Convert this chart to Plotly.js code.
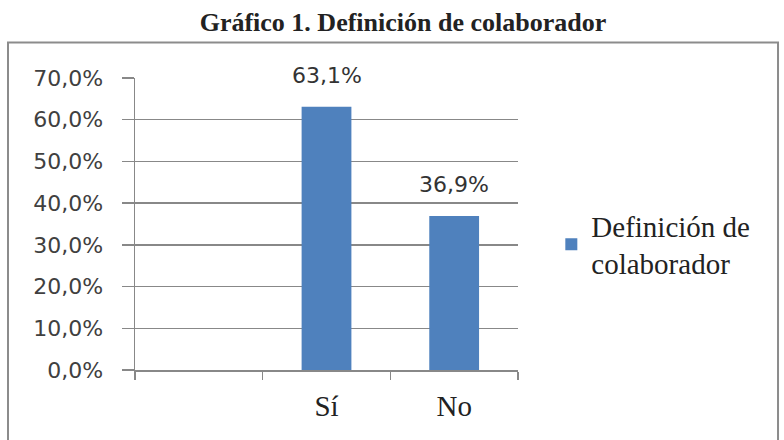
<!DOCTYPE html>
<html>
<head>
<meta charset="utf-8">
<script src="https://cdn.plot.ly/plotly-3.0.1.min.js"></script>
<style>
  html, body { margin: 0; padding: 0; background: #fff; }
  #chart { width: 784px; height: 440px; }
</style>
</head>
<body>
<div id="chart"></div>
<script>
// categorías (la primera está vacía, como en el original)
const categorias = ['', 'Sí', 'No'];
const porcentajes = [null, 63.1, 36.9];
const nombreSerie = 'Definición de<br>colaborador';
const tituloGrafico = 'Gráfico 1. Definición de colaborador';
const ticksY = [0, 10, 20, 30, 40, 50, 60, 70];

// etiquetas con coma decimal
function fmtPct(v) {
    return v.toFixed(1).replace('.', ',') + '%';
}

const etiquetas = [];
categorias.forEach((c, i) => {
    if (porcentajes[i] === null) return;
    etiquetas.push({
        x: c,
        y: porcentajes[i],
        text: fmtPct(porcentajes[i]),
        showarrow: false,
        yanchor: 'bottom',
        yshift: 17,
        font: { family: 'DejaVu Sans', size: 22, color: '#333333' }
    });
});

const trace = {
    x: categorias,
    y: porcentajes,
    type: 'bar',
    name: nombreSerie,
    marker: { color: '#4f81bd' },
    hoverinfo: 'skip',
    showlegend: true
};

const layout = {
    width: 784,
    height: 440,
    paper_bgcolor: '#ffffff',
    plot_bgcolor: '#ffffff',
    margin: { l: 135, r: 266, t: 78, b: 70 },
    bargap: 0.61,
    title: {
        text: '<b>' + tituloGrafico + '</b>',
        xref: 'container', yref: 'container',
        x: 0.514, y: 0.95, xanchor: 'center', yanchor: 'middle',
        font: { family: 'Liberation Serif', size: 26, color: '#222222' }
    },
    xaxis: {
        type: 'category',
        categoryorder: 'array',
        categoryarray: categorias,
        tickson: 'boundaries',
        ticks: 'outside',
        ticklen: 8,
        tickcolor: '#888888',
        tickwidth: 1.5,
        showline: true,
        linecolor: '#888888',
        linewidth: 1.5,
        showgrid: false,
        ticklabelstandoff: 10,
        tickfont: { family: 'Liberation Serif', size: 29, color: '#222222' },
        fixedrange: true
    },
    yaxis: {
        range: [0, 70],
        tickmode: 'array',
        tickvals: ticksY,
        ticktext: ticksY.map(fmtPct),
        ticks: 'outside',
        ticklen: 12,
        tickcolor: '#888888',
        tickwidth: 1.5,
        showline: true,
        linecolor: '#888888',
        linewidth: 1.5,
        showgrid: true,
        gridcolor: '#888888',
        gridwidth: 1.5,
        zeroline: false,
        ticklabelstandoff: 14,
        tickfont: { family: 'DejaVu Sans', size: 22, color: '#404040' },
        fixedrange: true
    },
    showlegend: true,
    legend: {
        x: 1.087, xanchor: 'left',
        y: 0.43, yanchor: 'middle',
        bgcolor: 'rgba(0,0,0,0)',
        font: { family: 'Liberation Serif', size: 29, color: '#222222' }
    },
    annotations: etiquetas,
    shapes: [{
        type: 'rect',
        xref: 'paper', yref: 'paper',
        x0: -0.3316, x1: 1.6789,
        y0: -0.245, y1: 1.122,
        line: { color: '#8c8c8c', width: 2 },
        fillcolor: 'rgba(0,0,0,0)',
        layer: 'below'
    }]
};

Plotly.newPlot('chart', [trace], layout, { displayModeBar: false, staticPlot: true });
</script>
</body>
</html>
